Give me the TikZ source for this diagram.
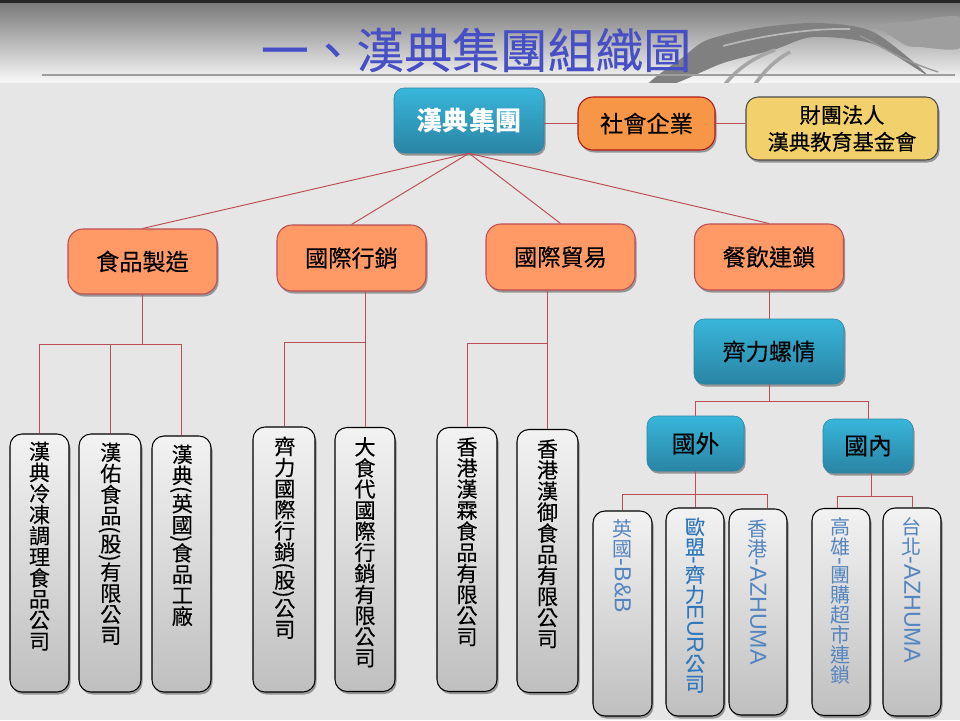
\documentclass[tikz,border=0pt]{standalone}
\usepackage{fontspec}
\usepackage{graphicx}
\usepackage{tikz}
\usetikzlibrary{shadows}
\setmainfont{Noto Sans CJK TC}
\newfontfamily\heavyfont[FakeBold=.25]{Noto Sans CJK TC}
\newfontfamily\latinfont{Liberation Sans}
\makeatletter
\newcommand{\upchars}[1]{\@tfor\upcur:=#1\do{\rotatebox[origin=c]{90}{\rule[-.12em]{0pt}{1em}\makebox[1em]{\upcur}}}}
\makeatother
\newcommand{\wide}[1]{{\latinfont\fontsize{13.2}{13.2}\selectfont #1}}

\begin{document}
\begin{tikzpicture}[node distance=2cm]
	\tikzstyle{softshadow} = [drop shadow={shadow xshift=.03cm, shadow yshift=-.05cm, opacity=.35, fill=black}]
	\tikzstyle{bluebox} = [rectangle, rounded corners=.2cm, softshadow, top color=blue1, bottom color=blue2, draw=blue2, line width=.3pt, text centered, inner sep=0pt]
	\tikzstyle{orangebox} = [rectangle, rounded corners=.3cm, softshadow, fill=orange1, draw=line1, line width=.6pt, text centered, inner sep=0pt, minimum width=2.98cm, font=\heavyfont\fontsize{13.2}{15}\selectfont]
	\tikzstyle{leafbox} = [rectangle, rounded corners=.24cm, softshadow, top color=gray!10, bottom color=gray!50, draw=black, line width=.6pt, inner sep=0pt]
	\tikzstyle{leaftext} = [rotate=-90, anchor=west, inner sep=0pt, font=\heavyfont\fontsize{12}{12}\selectfont]
	\tikzstyle{bluetext} = [leaftext, text=blue3, font=\rmfamily\fontsize{11.4}{12}\selectfont]
	\tikzstyle{line} = [draw=line1, line width=.55pt]

	\definecolor{blue1}{HTML}{38B6DA}
	\definecolor{blue2}{HTML}{2A84A4}
	\definecolor{blue3}{HTML}{5585BE}
	\definecolor{blue4}{HTML}{2F78BE}
	\definecolor{orange1}{HTML}{FF9966}
	\definecolor{orange2}{HTML}{F79646}
	\definecolor{yellow1}{HTML}{F2D06B}
	\definecolor{line1}{HTML}{BC4F55}
	\definecolor{red1}{HTML}{B01818}
	\definecolor{title1}{HTML}{474FC6}
	\definecolor{page1}{HTML}{E6E6E6}

	\useasboundingbox (0,0) rectangle (19.2,-14.4);
	\fill [page1] (0,0) rectangle (19.2,-14.4);
	\shade [top color=black!52, bottom color=black!3] (0,-.06) rectangle (19.2,-1.64);
	\fill [black!85] (0,0) rectangle (19.2,-.06);
	\begin{scope}[x=.02cm, y=-.02cm]
		\clip (0,3) rectangle (960,82);
		\fill [black!38] plot [smooth cycle] coordinates {(850,27) (905,22) (960,17) (960,48) (920,47) (905,45) (880,30)};
		\fill [black!50] plot [smooth cycle] coordinates {(648,84) (683,57) (707,40) (757,28) (817,23) (873,32) (927,75) (873,44) (813,37) (773,50) (723,63) (673,84)};
		\draw [black!28, line width=1pt] (723,46) .. controls (760,36) and (810,28) .. (850,29);
		\draw [black!35, line width=2pt] (725,84) .. controls (740,65) and (760,55) .. (775,50);
		\draw [black!35, line width=2pt] (755,84) .. controls (765,70) and (775,60) .. (790,52);
		\draw [black!40, line width=.8pt] (860,36) .. controls (880,45) and (900,60) .. (938,72);
	\end{scope}
	\draw [black!38, line width=1.2pt] (.84,-1.5) -- (19.1,-1.5);
	\node (title) [text=title1, font=\heavyfont\fontsize{27.2}{30}\selectfont] at (9.52,-1) {一、漢典集團組織圖};

	\node (group) [bluebox, minimum width=3cm, minimum height=1.3cm, text=white, font=\fontsize{14.8}{16}\selectfont\bfseries] at (9.38,-2.41) {漢典集團};
	\node (social) [orangebox, fill=orange2, draw=red1, minimum width=2.74cm, minimum height=1.06cm, right of=group, xshift=1.55cm, yshift=-.06cm] {社會企業};
	\node (found) [orangebox, fill=yellow1, draw=black!70, rounded corners=.24cm, minimum width=3.84cm, minimum height=1.26cm, align=center, font=\heavyfont\fontsize{12.1}{15.3}\selectfont, right of=social, xshift=1.91cm, yshift=-.1cm] {財團法人\\漢典教育基金會};
	\node (food) [orangebox, minimum height=1.3cm, below of=group, xshift=-6.53cm, yshift=-.82cm] {食品製造};
	\node (market) [orangebox, minimum height=1.32cm, right of=food, xshift=2.18cm, yshift=.07cm] {國際行銷};
	\node (trade) [orangebox, minimum height=1.32cm, right of=market, xshift=2.18cm, yshift=.02cm] {國際貿易};
	\node (chain) [orangebox, minimum height=1.32cm, right of=trade, xshift=2.17cm] {餐飲連鎖};
	\node (qili) [bluebox, minimum width=3cm, minimum height=1.3cm, font=\heavyfont\fontsize{13.2}{15}\selectfont, below of=chain, yshift=.11cm] {齊力螺情};
	\node (abroad) [bluebox, minimum width=1.94cm, minimum height=1.1cm, font=\heavyfont\fontsize{13.6}{15}\selectfont, below of=qili, xshift=-1.47cm, yshift=.16cm] {國外};
	\node (home) [bluebox, minimum width=1.8cm, minimum height=1.08cm, font=\heavyfont\fontsize{13.6}{15}\selectfont, right of=abroad, xshift=1.45cm, yshift=-.05cm] {國內};

	\node (hanA) [leafbox, minimum width=1.18cm, minimum height=5.16cm, below of=food, node distance=6.03cm, xshift=-2.06cm] {};
	\node (hanB) [leafbox, minimum width=1.24cm, minimum height=5.16cm, right of=hanA, node distance=1.41cm] {};
	\node (hanC) [leafbox, minimum width=1.18cm, minimum height=5.12cm, right of=hanB, node distance=1.43cm, yshift=-.02cm] {};
	\node (qiliCo) [leafbox, minimum width=1.24cm, minimum height=5.3cm, below of=market, node distance=6.03cm, xshift=-1.35cm] {};
	\node (foodRep) [leafbox, minimum width=1.2cm, minimum height=5.28cm, right of=qiliCo, node distance=1.62cm] {};
	\node (hkLin) [leafbox, minimum width=1.2cm, minimum height=5.28cm, right of=foodRep, node distance=2.04cm] {};
	\node (hkYu) [leafbox, minimum width=1.22cm, minimum height=5.26cm, right of=hkLin, node distance=1.61cm, yshift=-.03cm] {};
	\node (ukBB) [leafbox, minimum width=1.18cm, minimum height=4.1cm, below of=abroad, node distance=3.4cm, xshift=-1.46cm] {};
	\node (euEur) [leafbox, minimum width=1.16cm, minimum height=4.16cm, right of=ukBB, node distance=1.45cm, yshift=.03cm] {};
	\node (hkAz) [leafbox, minimum width=1.16cm, minimum height=4.12cm, right of=euEur, node distance=1.26cm] {};
	\node (khChain) [leafbox, minimum width=1.16cm, minimum height=4.14cm, right of=hkAz, node distance=1.66cm] {};
	\node (tpAz) [leafbox, minimum width=1.16cm, minimum height=4.16cm, right of=khChain, node distance=1.42cm] {};

	\node (hanAText) [leaftext] at ([yshift=-.14cm]hanA.north) {\upchars{漢典冷凍調理食品公司}};
	\node (hanBText) [leaftext] at ([yshift=-.16cm]hanB.north) {\upchars{漢佑食品}(\upchars{股})\upchars{有限公司}};
	\node (hanCText) [leaftext] at ([yshift=-.16cm]hanC.north) {\upchars{漢典}(\upchars{英國})\upchars{食品工廠}};
	\node (qiliCoText) [leaftext] at ([yshift=-.18cm]qiliCo.north) {\upchars{齊力國際行銷}(\upchars{股})\upchars{公司}};
	\node (foodRepText) [leaftext] at ([yshift=-.18cm]foodRep.north) {\upchars{大食代國際行銷有限公司}};
	\node (hkLinText) [leaftext] at ([yshift=-.18cm]hkLin.north) {\upchars{香港漢霖食品有限公司}};
	\node (hkYuText) [leaftext] at ([yshift=-.18cm]hkYu.north) {\upchars{香港漢御食品有限公司}};
	\node (ukBBText) [bluetext] at ([yshift=-.16cm]ukBB.north) {\upchars{英國}\wide{-B\&B}};
	\node (euEurText) [bluetext, text=blue4, font=\heavyfont\fontsize{11.4}{12}\selectfont] at ([yshift=-.18cm]euEur.north) {\upchars{歐盟}\wide{-}\upchars{齊力}\wide{EUR}\upchars{公司}};
	\node (hkAzText) [bluetext] at ([yshift=-.2cm]hkAz.north) {\upchars{香港}\wide{-AZHUMA}};
	\node (khChainText) [bluetext] at ([yshift=-.18cm]khChain.north) {\upchars{高雄}\wide{-}\upchars{團購超市連鎖}};
	\node (tpAzText) [bluetext] at ([yshift=-.18cm]tpAz.north) {\upchars{台北}\wide{-AZHUMA}};

	\node (foodBar) [coordinate, below of=food, node distance=1.65cm] {};
	\node (marketBar) [coordinate, below of=market, node distance=1.68cm] {};
	\node (tradeBar) [coordinate, below of=trade, node distance=1.72cm] {};
	\node (qiliBar) [coordinate, below of=qili, node distance=.99cm] {};
	\node (abroadBar) [coordinate, below of=abroad, node distance=1.01cm] {};
	\node (homeBar) [coordinate, below of=home, node distance=1cm, xshift=.06cm] {};

	\draw [line] (social.west -| group.east) -- (social.west);
	\draw [line] (social.east) -- (social.east -| found.west);
	\draw [line] (group.south) -- (food.north);
	\draw [line] (group.south) -- (market.north);
	\draw [line] (group.south) -- (trade.north);
	\draw [line] (group.south) -- (chain.north);
	\draw [line] (food.south) -- (foodBar);
	\draw [line] (hanA.north) |- (foodBar);
	\draw [line] (hanB.north) -- (foodBar -| hanB.north);
	\draw [line] (hanC.north) |- (foodBar);
	\draw [line] (market.south -| foodRep.north) -- (foodRep.north);
	\draw [line] (qiliCo.north) |- (marketBar -| foodRep.north);
	\draw [line] (trade.south -| hkYu.north) -- (hkYu.north);
	\draw [line] (hkLin.north) |- (tradeBar -| hkYu.north);
	\draw [line] (chain.south) -- (qili.north);
	\draw [line] (qili.south) -- (qiliBar);
	\draw [line] (abroad.north) |- (qiliBar);
	\draw [line] (home.north) |- (qiliBar);
	\draw [line] (abroad.south) -- (abroadBar);
	\draw [line] (ukBB.north) |- (abroadBar);
	\draw [line] (euEur.north) -- (abroadBar -| euEur.north);
	\draw [line] ([xshift=.18cm]hkAz.north) |- (abroadBar);
	\draw [line] ([xshift=.06cm]home.south) -- (homeBar);
	\draw [line] ([xshift=-.08cm]khChain.north) |- (homeBar);
	\draw [line] (tpAz.north) |- (homeBar);
\end{tikzpicture}
\end{document}
